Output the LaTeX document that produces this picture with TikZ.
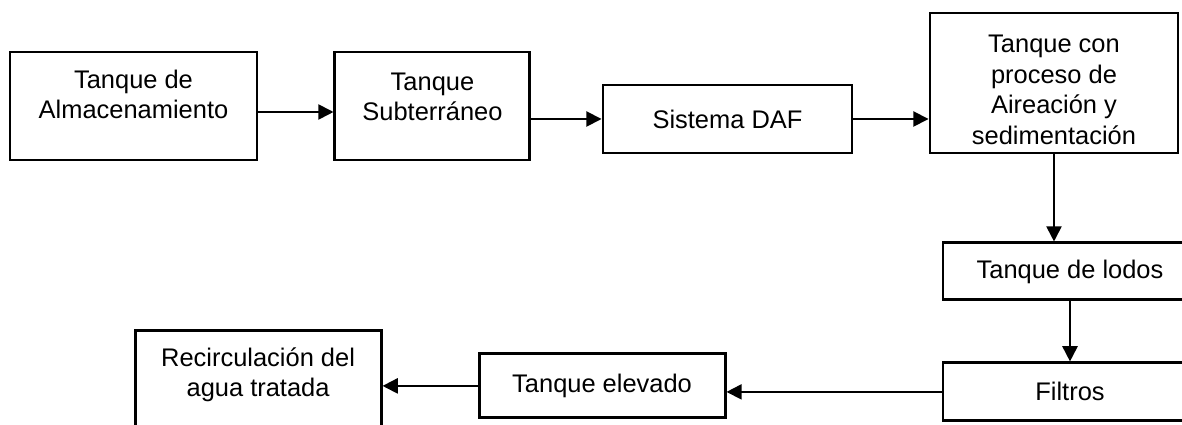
\documentclass[tikz,border=0pt]{standalone}
\usepackage{fontspec}
\setmainfont{Liberation Sans}
\usetikzlibrary{arrows.meta, positioning}

\begin{document}
\begin{tikzpicture}[
            box/.style={rectangle, draw, line width=2.1pt, inner sep=0pt, align=center, font=\fontsize{18.1pt}{21.8pt}\selectfont},
            txt/.style={align=center, font=\fontsize{18.1pt}{21.8pt}\selectfont},
            flow/.style={-{Triangle[length=0.38cm, width=0.38cm]}, line width=1.3pt},
        ]
            \useasboundingbox (0,0) rectangle (29.55,10.625);
            \node[box, minimum width=6.175cm, minimum height=2.7cm, label={[txt, yshift=0.29cm]center:Tanque de\\Almacenamiento}] (almacen) at (3.3375,7.975) {};
            \node[box, minimum width=4.875cm, minimum height=2.7cm, right=1.875cm of almacen, label={[txt, yshift=0.225cm]center:Tanque\\Subterráneo}] (subterraneo) {};
            \node[box, minimum width=6.225cm, minimum height=1.7cm] (daf) at (18.1875,7.65) {Sistema DAF};
            \node[box, minimum width=6.2cm, minimum height=3.5cm, label={[txt, yshift=-0.175cm]center:Tanque con\\proceso de\\Aireación y\\sedimentación}] (aireacion) at (26.35,8.55) {};
            \node[box, minimum width=6.35cm, minimum height=1.425cm, below=2.175cm of aireacion, xshift=0.4cm] (lodos) {Tanque de lodos};
            \node[box, minimum width=6.35cm, minimum height=1.45cm, below=1.5cm of lodos] (filtros) {Filtros};
            \node[box, minimum width=6.15cm, minimum height=1.6cm, left=5.375cm of filtros, yshift=0.15cm] (elevado) {Tanque elevado};
            \node[box, minimum width=6.15cm, minimum height=2.875cm, left=2.375cm of elevado, yshift=-0.0625cm, label={[txt, yshift=0.3375cm]center:Recirculación del\\agua tratada}] (recirc) {};

            \draw[flow] ([yshift=-0.15cm]almacen.east) -- ([yshift=-0.15cm]almacen.east -| subterraneo.west);
            \draw[flow] (subterraneo.east |- daf.west) -- (daf.west);
            \draw[flow] (daf.east) -- (daf.east -| aireacion.west);
            \draw[flow] (aireacion.south) -- (aireacion.south |- lodos.north);
            \draw[flow] (lodos.south) -- (filtros.north);
            \draw[flow] (filtros.west) -- (filtros.west -| elevado.east);
            \draw[flow] (elevado.west) -- (elevado.west -| recirc.east);
        \end{tikzpicture}
\end{document}
